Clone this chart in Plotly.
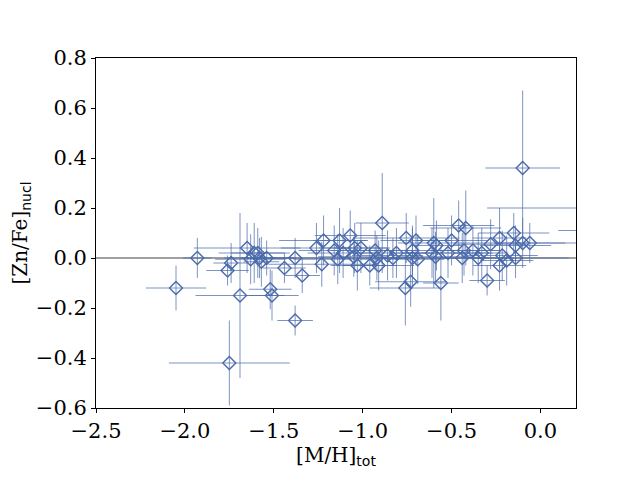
import plotly.graph_objects as go

# [M/H]_tot values
mh = [-2.05, -1.93, -1.75, -1.74, -1.76, -1.69, -1.65, -1.63, -1.61, -1.59,
      -1.58, -1.57, -1.54, -1.52, -1.51, -1.44, -1.38, -1.38, -1.34, -1.26,
      -1.22, -1.23, -1.16, -1.13, -1.14, -1.11, -1.07, -1.05, -1.03, -1.01,
      -1.045, -0.96, -0.93, -0.92, -0.91, -0.89, -0.86, -0.83, -0.81, -0.76,
      -0.755, -0.73, -0.72, -0.70, -0.72, -0.69, -0.60, -0.585, -0.61, -0.59,
      -0.56, -0.52, -0.50, -0.46, -0.42, -0.43, -0.44, -0.38, -0.35, -0.33,
      -0.30, -0.28, -0.23, -0.215, -0.23, -0.19, -0.15, -0.14, -0.14, -0.10,
      -0.10, -0.06, 0.35, 0.30]
mh_err = [0.17, 0.08, 0.34, 0.10, 0.12, 0.25, 0.30, 0.20, 0.20, 0.15,
          0.20, 0.10, 0.15, 0.12, 0.15, 0.12, 0.30, 0.10, 0.10, 0.20,
          0.25, 0.30, 0.20, 0.15, 0.25, 0.20, 0.20, 0.20, 0.15, 0.15,
          0.20, 0.15, 0.25, 0.20, 0.20, 0.15, 0.20, 0.15, 0.20, 0.20,
          0.30, 0.20, 0.25, 0.20, 0.20, 0.15, 0.20, 0.15, 0.20, 0.20,
          0.10, 0.25, 0.20, 0.20, 0.20, 0.20, 0.15, 0.15, 0.20, 0.15,
          0.10, 0.20, 0.15, 0.20, 0.15, 0.15, 0.20, 0.20, 0.30, 0.21,
          0.30, 0.20, 0.65, 0.20]
# [Zn/Fe]_nucl values
znfe = [-0.12, 0.00, -0.42, -0.02, -0.05, -0.15, 0.04, -0.005, 0.02, 0.02,
        0.00, -0.015, 0.00, -0.125, -0.15, -0.04, 0.00, -0.25, -0.07, 0.04,
        0.07, -0.025, 0.03, 0.07, -0.005, 0.02, 0.09, 0.005, -0.03, 0.04,
        0.04, -0.03, 0.03, 0.00, -0.03, 0.14, 0.01, 0.00, 0.02, -0.12,
        0.08, -0.095, 0.03, 0.07, 0.00, -0.005, 0.06, 0.05, 0.02, 0.005,
        -0.10, 0.02, 0.07, 0.13, 0.12, 0.03, 0.00, 0.03, 0.00, 0.02,
        -0.09, 0.055, 0.08, 0.01, -0.03, -0.01, 0.10, 0.05, 0.00, 0.36,
        0.06, 0.06, 0.20, 0.11]
znfe_err = [0.09, 0.08, 0.17, 0.08, 0.06, 0.33, 0.10, 0.10, 0.12, 0.10,
            0.08, 0.10, 0.07, 0.08, 0.10, 0.06, 0.08, 0.06, 0.07, 0.10,
            0.10, 0.09, 0.10, 0.13, 0.10, 0.10, 0.10, 0.08, 0.10, 0.10,
            0.10, 0.08, 0.08, 0.09, 0.10, 0.20, 0.10, 0.08, 0.10, 0.15,
            0.10, 0.10, 0.10, 0.10, 0.12, 0.10, 0.18, 0.10, 0.10, 0.10,
            0.15, 0.10, 0.10, 0.10, 0.15, 0.10, 0.10, 0.10, 0.10, 0.10,
            0.06, 0.10, 0.12, 0.10, 0.10, 0.10, 0.08, 0.08, 0.08, 0.31,
            0.10, 0.08, 0.10, 0.10]

x_ticks = [-2.5, -2.0, -1.5, -1.0, -0.5, 0.0]
x_ticktext = ["\u22122.5", "\u22122.0", "\u22121.5", "\u22121.0", "\u22120.5", "0.0"]
y_ticks = [-0.6, -0.4, -0.2, 0.0, 0.2, 0.4, 0.6, 0.8]
y_ticktext = ["\u22120.6", "\u22120.4", "\u22120.2", "0.0", "0.2", "0.4", "0.6", "0.8"]

col = "#4a6aab"
font_serif = "DejaVu Serif"
sub_style = "font-family:'DejaVu Sans'"

fig = go.Figure()
fig.add_shape(type="line", xref="paper", yref="y", x0=0, x1=1, y0=0, y1=0,
              line=dict(color="#808080", width=1.3), layer="below")
fig.add_trace(go.Scatter(
    x=mh, y=znfe, mode="markers",
    marker=dict(symbol="diamond-open", size=10, color=col, line=dict(width=1.4, color=col)),
    error_x=dict(type="data", array=mh_err, color="rgba(74,106,171,0.9)", thickness=0.8, width=0),
    error_y=dict(type="data", array=znfe_err, color="rgba(74,106,171,0.9)", thickness=0.8, width=0),
    showlegend=False,
))

axis_common = dict(showline=True, linecolor="black", linewidth=1, mirror=True,
                   ticks="outside", ticklen=4, tickwidth=1, tickcolor="black",
                   showgrid=False, zeroline=False,
                   tickfont=dict(family=font_serif, size=21, color="black"))
fig.update_xaxes(range=[-2.5, 0.2], tickvals=x_ticks, ticktext=x_ticktext,
                 title=dict(text=f"[M/H]<sub><span style=\"{sub_style}\">tot</span></sub>",
                            font=dict(family=font_serif, size=20, color="black"), standoff=2),
                 **axis_common)
fig.update_yaxes(range=[-0.6, 0.8], tickvals=y_ticks, ticktext=y_ticktext,
                 title=dict(text=f"[Zn/Fe]<sub><span style=\"{sub_style}\">nucl</span></sub>",
                            font=dict(family=font_serif, size=20, color="black"), standoff=2),
                 **axis_common)
fig.update_layout(width=640, height=480, margin=dict(l=88, r=72, t=50, b=80),
                  plot_bgcolor="white", paper_bgcolor="white")
fig.write_html("out.html")
